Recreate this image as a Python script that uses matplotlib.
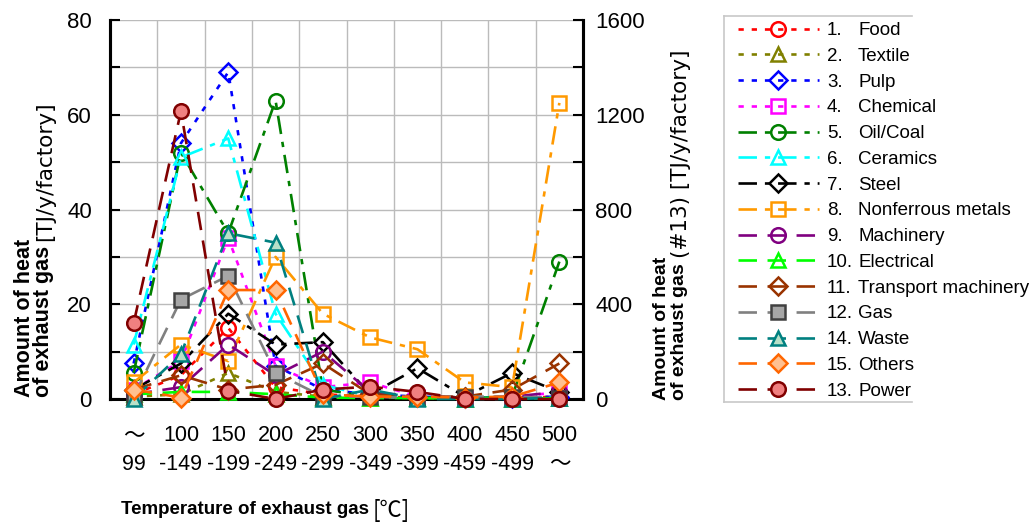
import matplotlib
matplotlib.use('Agg')
import matplotlib.pyplot as plt
from matplotlib.lines import Line2D
from matplotlib.ticker import MultipleLocator, FixedLocator

plt.rcParams['font.family'] = ['Liberation Sans', 'Noto Sans CJK JP']

# ---------------- data ----------------
categories = ["～\n99", "100\n-149", "150\n-199", "200\n-249", "250\n-299",
              "300\n-349", "350\n-399", "400\n-459", "450\n-499", "500\n～"]

food        = [1.0, 5.0, 15.0, 2.5, 1.0, 0.5, 0.3, 0.2, 0.2, 0.5]
textile     = [0.5, 1.0, 5.5, 1.5, 0.5, 0.3, 0.2, 0.1, 0.1, 0.2]
pulp        = [7.5, 54.0, 69.0, 7.0, 2.0, 1.0, 0.5, 0.3, 0.3, 0.5]
chemical    = [2.0, 8.0, 34.0, 7.0, 2.5, 3.5, 0.5, 0.3, 0.3, 1.5]
oil_coal    = [5.5, 52.0, 35.0, 63.0, 2.0, 0.5, 0.3, 0.2, 0.5, 29.0]
ceramics    = [11.5, 51.0, 55.0, 18.0, 3.0, 0.5, 0.3, 0.2, 0.2, 0.3]
steel       = [2.0, 7.5, 18.0, 11.5, 12.0, 1.0, 6.5, 0.5, 5.5, 1.5]
nonferrous  = [3.5, 11.5, 8.0, 30.0, 18.0, 13.0, 10.5, 3.5, 2.5, 62.5]
machinery   = [1.0, 2.5, 11.5, 5.0, 10.0, 1.5, 0.5, 0.3, 0.5, 1.5]
electrical  = [1.0, 1.5, 1.5, 1.0, 0.3, 0.2, 0.2, 0.1, 0.1, 0.2]
transport   = [2.0, 5.0, 2.0, 3.0, 7.5, 1.0, 0.5, 0.5, 2.0, 7.5]
gas         = [0.5, 21.0, 26.0, 5.5, 0.5, 0.5, 0.2, 0.5, 0.5, 0.2]
waste       = [0.0, 9.5, 35.0, 33.0, 0.0, 2.0, 0.0, 0.0, 0.0, 0.3]
others      = [2.0, 0.3, 23.0, 23.0, 1.0, 0.5, 0.5, 0.3, 0.5, 3.5]
power       = [320, 1215, 35, 0, 40, 52, 30, 0, 0, 0]   # right axis (#13)

numbers = ["1.", "2.", "3.", "4.", "5.", "6.", "7.", "8.", "9.", "10.",
           "11.", "12.", "14.", "15.", "13."]
names = ["Food", "Textile", "Pulp", "Chemical", "Oil/Coal", "Ceramics", "Steel",
         "Nonferrous metals", "Machinery", "Electrical", "Transport machinery",
         "Gas", "Waste", "Others", "Power"]

left_ticks = [0, 20, 40, 60, 80]
right_ticks = [0, 400, 800, 1200, 1600]

# ---------------- styles ----------------
DOT = (0, (2, 3))
DASHDOT = (0, (7, 3, 2, 3))
DASH = (0, (7, 4))

styles = [
    ("#FF0000", "o", "none", DOT),
    ("#808000", "^", "none", DOT),
    ("#0000FF", "D", "none", DOT),
    ("#FF00FF", "s", "none", DOT),
    ("#008000", "o", "none", DASHDOT),
    ("#00FFFF", "^", "none", DASHDOT),
    ("#000000", "D", "none", DASHDOT),
    ("#FF9900", "s", "none", DASHDOT),
    ("#800080", "o", "none", DASH),
    ("#00FF00", "^", "none", DASH),
    ("#993300", "D", "none", DASH),
    ("#808080", "s", "#A6A6A6", DASH),
    ("#008080", "^", "#B8E0C8", DASH),
    ("#FF6600", "D", "#FFC090", DASH),
    ("#800000", "o", "#F08080", DASH),
]
edge_override = {11: "#404040"}

series_left = [food, textile, pulp, chemical, oil_coal, ceramics, steel,
               nonferrous, machinery, electrical, transport, gas, waste, others]

W, H = 1035, 525
fig = plt.figure(figsize=(W / 100, H / 100), dpi=100)
ax = fig.add_axes([110 / W, 1 - 399 / H, (583 - 110) / W, (399 - 20) / H])
ax2 = ax.twinx()

x = list(range(len(categories)))
LW = 1.9
handles = []
for i, data in enumerate(series_left + [power]):
    color, mk, mfc, ls = styles[i]
    target = ax2 if i == len(series_left) else ax
    mec = edge_override.get(i, color)
    ln, = target.plot(x, data, color=color, linestyle=ls, linewidth=LW,
                      marker=mk, markersize=10.5 if mk != "D" else 9,
                      markerfacecolor=mfc, markeredgecolor=mec,
                      markeredgewidth=1.8, clip_on=False, zorder=3 + i * 0.01)
    handles.append(ln)

ax.set_xlim(-0.5, len(categories) - 0.5)
ax.set_ylim(0, 80)
ax2.set_ylim(0, 1600)

ax.set_xticks(x)
ax.set_xticklabels(categories, fontsize=15.5, linespacing=1.45)
ax.xaxis.set_minor_locator(FixedLocator([k + 0.5 for k in range(len(categories) - 1)]))
ax.tick_params(axis='x', which='both', length=0, pad=19)
ax.set_yticks(left_ticks)
ax.yaxis.set_minor_locator(MultipleLocator(10))
ax.tick_params(axis='y', which='both', direction='in', length=7, width=1.5,
               labelsize=16, pad=13)
ax2.set_yticks(right_ticks)
ax2.yaxis.set_minor_locator(MultipleLocator(200))
ax2.tick_params(axis='y', which='both', direction='in', length=7, width=1.5,
                labelsize=16, pad=9)

ax.grid(True, which='minor', axis='x', color='#BBBBBB', linewidth=1)
ax.grid(True, which='both', axis='y', color='#BBBBBB', linewidth=1)
ax.set_axisbelow(True)

for a in (ax, ax2):
    a.spines['top'].set_visible(False)
    for s in ('left', 'right', 'bottom'):
        a.spines[s].set_linewidth(2.2)
        a.spines[s].set_color('black')
ax2.spines['bottom'].set_visible(False)

# axis labels (bold part, then regular unit part above it)
def stacked_label(xc1, xc2, y_bottom, size_b, size_r, unit):
    fig.text(xc1 / W, 1 - y_bottom / H, "Amount of heat", rotation=90,
             ha='center', va='bottom', fontsize=size_b, fontweight='bold')
    t2 = fig.text(xc2 / W, 1 - y_bottom / H, "of exhaust gas", rotation=90,
                  ha='center', va='bottom', fontsize=size_b, fontweight='bold')
    fig.canvas.draw()
    b = t2.get_window_extent()
    fig.text((xc2 + 1) / W, (b.y1 + 5) / H, unit, rotation=90, ha='center',
             va='bottom', fontsize=size_r, family=['DejaVu Sans'])

stacked_label(25, 44, 397, 15.5, 15.5, "[TJ/y/factory]")
stacked_label(662, 680, 400, 14, 15.5, "(#13) [TJ/y/factory]")

t = fig.text(121 / W, 1 - 510 / H, "Temperature of exhaust gas", ha='left',
             va='center', fontsize=13.5, fontweight='bold')
fig.canvas.draw()
bb = t.get_window_extent()
fig.text((bb.x1 + 4) / W, 1 - 510 / H, "[℃]", ha='left', va='center',
         fontsize=16, family=['Noto Sans CJK JP', 'DejaVu Sans'])

# legend
leg = fig.legend(handles, numbers, loc='upper left',
                 bbox_to_anchor=(738 / W, 1 - 22 / H), borderaxespad=0,
                 borderpad=0, frameon=False, fontsize=13.5, handlelength=4.3,
                 handletextpad=0.45, labelspacing=0.46)
fig.canvas.draw()
for txt, name in zip(leg.get_texts(), names):
    b = txt.get_window_extent()
    fig.text(858 / W, ((b.y0 + b.y1) / 2) / H, name, ha='left', va='center',
             fontsize=13.5)

frame_c = '#C8C8C8'
for (x0, y0, x1, y1) in [(724, 16, 724, 402), (724, 16, 912, 16), (724, 402, 912, 402)]:
    fig.add_artist(Line2D([x0 / W, x1 / W], [1 - y0 / H, 1 - y1 / H],
                          transform=fig.transFigure, color=frame_c, linewidth=1.2))

fig.savefig("out.png", dpi=100)
